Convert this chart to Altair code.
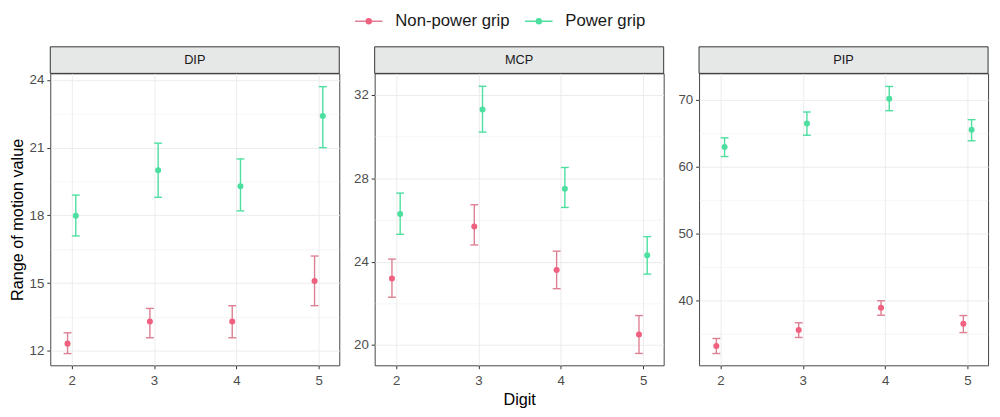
import altair as alt
import pandas as pd

digits = [2, 3, 4, 5]
grips = ["Non-power grip", "Power grip"]
panels = ["DIP", "MCP", "PIP"]

# DIP
dip_non_mean = [12.32, 13.30, 13.30, 15.09]
dip_non_lo = [11.88, 12.58, 12.58, 14.00]
dip_non_hi = [12.80, 13.88, 14.00, 16.20]
dip_pow_mean = [17.98, 20.00, 19.29, 22.40]
dip_pow_lo = [17.09, 18.80, 18.20, 21.00]
dip_pow_hi = [18.90, 21.20, 20.50, 23.70]

# MCP
mcp_non_mean = [23.19, 25.69, 23.60, 20.50]
mcp_non_lo = [22.29, 24.80, 22.70, 19.59]
mcp_non_hi = [24.12, 26.73, 24.50, 21.41]
mcp_pow_mean = [26.29, 31.30, 27.50, 24.30]
mcp_pow_lo = [25.31, 30.22, 26.60, 23.40]
mcp_pow_hi = [27.29, 32.42, 28.52, 25.20]

# PIP
pip_non_mean = [33.27, 35.65, 38.97, 36.58]
pip_non_lo = [32.14, 34.53, 37.85, 35.26]
pip_non_hi = [34.38, 36.72, 40.00, 37.80]
pip_pow_mean = [62.91, 66.43, 70.10, 65.50]
pip_pow_lo = [61.50, 64.67, 68.33, 63.85]
pip_pow_hi = [64.29, 68.14, 71.95, 67.00]

dip_domain = [11.36, 24.29]
dip_major = [12, 15, 18, 21, 24]
dip_minor = [13.5, 16.5, 19.5, 22.5]
mcp_domain = [19.02, 33.04]
mcp_major = [20, 24, 28, 32]
mcp_minor = [22, 26, 30]
pip_domain = [30.38, 73.9]
pip_major = [40, 50, 60, 70]
pip_minor = [35, 45, 55, 65]

x_domain = [1.74, 5.25]
x_values = [2, 2.5, 3, 3.5, 4, 4.5, 5]

PT_NON = "#f0607f"
BAR_NON = "#dc7f92"
POW = "#4cdfa0"

W, H = 294, 297
STRIP = 27

# legend placement (relative to the middle panel's plot area)
LEG_RANGE = [-6, 167]
LEG_Y = -53


def make_df(nm, nl, nh, pm, pl, ph):
    rows = []
    for i, d in enumerate(digits):
        rows.append({"digit": d, "grip": grips[0], "mean": nm[i], "lo": nl[i], "hi": nh[i]})
        rows.append({"digit": d, "grip": grips[1], "mean": pm[i], "lo": pl[i], "hi": ph[i]})
    return pd.DataFrame(rows)


bar_scale = alt.Scale(domain=grips, range=[BAR_NON, POW])
pt_scale = alt.Scale(domain=grips, range=[PT_NON, POW])


def legend_layer():
    ldata = alt.Data(values=[{"grip": g} for g in grips])
    LX = alt.X("grip:N", scale=alt.Scale(type="point", domain=grips, range=LEG_RANGE, padding=0), axis=None)
    line = alt.Chart(ldata).mark_tick(orient="horizontal", size=28, thickness=1.5, opacity=1).encode(
        x=LX, y=alt.value(LEG_Y), fill=alt.Fill("grip:N", scale=bar_scale, legend=None))
    dot = alt.Chart(ldata).mark_circle(size=42, opacity=1).encode(
        x=LX, y=alt.value(LEG_Y), color=alt.Color("grip:N", scale=pt_scale, legend=None))
    txt = alt.Chart(ldata).mark_text(
        align="left", baseline="middle", dx=27, fontSize=17, color="#1a1a1a", font="Liberation Sans"
    ).encode(x=LX, y=alt.value(LEG_Y), text="grip:N")
    return alt.layer(line, dot, txt)


def panel(name, df, domain, majors, minors, first, middle):
    yvals = sorted(majors + minors)
    ytest = " || ".join(f"datum.value == {m}" for m in majors)
    xtest = "datum.value % 1 == 0"
    yaxis = alt.Axis(
        values=yvals,
        format="d",
        labelExpr=f"({ytest}) ? datum.label : ''",
        tickOpacity={"condition": {"test": ytest, "value": 1}, "value": 0},
        gridWidth={"condition": {"test": ytest, "value": 1}, "value": 0.5},
        title="Range of motion value" if first else None,
    )
    xaxis = alt.Axis(
        values=x_values,
        format="d",
        labelExpr=f"({xtest}) ? datum.label : ''",
        tickOpacity={"condition": {"test": xtest, "value": 1}, "value": 0},
        gridWidth={"condition": {"test": xtest, "value": 1}, "value": 0.5},
        title="Digit" if middle else None,
    )
    xs = alt.Scale(domain=x_domain, nice=False, zero=False)
    ys = alt.Scale(domain=domain, nice=False, zero=False)
    base = alt.Chart(df).transform_calculate(
        xd="datum.digit + (datum.grip == 'Power grip' ? 0.05 : -0.05)"
    )
    X = alt.X("xd:Q", scale=xs, axis=xaxis)
    rules = base.mark_rule(strokeWidth=1.4).encode(
        x=X, y=alt.Y("lo:Q", scale=ys, axis=yaxis), y2="hi:Q",
        stroke=alt.Stroke("grip:N", scale=bar_scale, legend=None),
    )
    capfill = alt.Fill("grip:N", scale=bar_scale, legend=None)
    cap_lo = base.mark_tick(size=8, thickness=1.4, orient="horizontal", opacity=1).encode(
        x=X, y=alt.Y("lo:Q", scale=ys, axis=yaxis), fill=capfill,
    )
    cap_hi = base.mark_tick(size=8, thickness=1.4, orient="horizontal", opacity=1).encode(
        x=X, y=alt.Y("hi:Q", scale=ys, axis=yaxis), fill=capfill,
    )
    pts = base.mark_circle(size=38, opacity=1).encode(
        x=X, y=alt.Y("mean:Q", scale=ys, axis=yaxis),
        color=alt.Color("grip:N", scale=pt_scale, legend=None),
    )
    strip_data = alt.Data(values=[{"panel": name}])
    strip_rect = alt.Chart(strip_data).mark_rect(
        fill="#e6e8e8", stroke="#333333", strokeWidth=1
    ).encode(x=alt.value(0), x2=alt.value(W), y=alt.value(-STRIP), y2=alt.value(0))
    strip_text = alt.Chart(strip_data).mark_text(
        fontSize=13, color="#1a1a1a", font="Liberation Sans", baseline="middle"
    ).encode(text="panel:N", x=alt.value(W / 2), y=alt.value(-STRIP / 2))
    main = alt.layer(rules, cap_lo, cap_hi, pts, strip_rect, strip_text)
    if middle:
        return alt.layer(main, legend_layer()).resolve_scale(x="independent").properties(width=W, height=H)
    return main.properties(width=W, height=H)


p1 = panel("DIP", make_df(dip_non_mean, dip_non_lo, dip_non_hi, dip_pow_mean, dip_pow_lo, dip_pow_hi),
           dip_domain, dip_major, dip_minor, True, False)
p2 = panel("MCP", make_df(mcp_non_mean, mcp_non_lo, mcp_non_hi, mcp_pow_mean, mcp_pow_lo, mcp_pow_hi),
           mcp_domain, mcp_major, mcp_minor, False, True)
p3 = panel("PIP", make_df(pip_non_mean, pip_non_lo, pip_non_hi, pip_pow_mean, pip_pow_lo, pip_pow_hi),
           pip_domain, pip_major, pip_minor, False, False)

chart = alt.hconcat(p1, p2, p3, spacing=36, bounds="flush").configure_view(
    stroke="#444444", strokeWidth=1
).configure_axis(
    domain=False,
    tickColor="#333333",
    tickSize=3.5,
    labelColor="#4d4d4d",
    labelFontSize=13.5,
    labelFont="Liberation Sans",
    labelPadding=3,
    titleFont="Liberation Sans",
    titleFontSize=16.5,
    titleFontWeight="normal",
    titleColor="#000000",
    gridColor="#ececec",
).configure_axisY(titlePadding=4).configure_axisX(titlePadding=5, labelPadding=5).properties(
    padding={"left": 0, "top": 0, "right": 3, "bottom": 0}
)

chart.save("out.html", embed_options={"renderer": "svg", "actions": False})
